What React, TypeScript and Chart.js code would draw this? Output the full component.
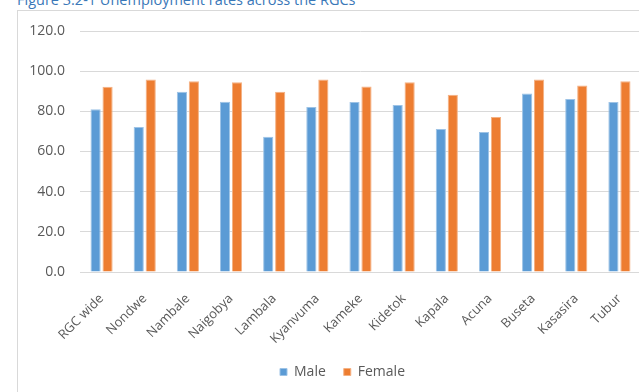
import React, { useEffect, useRef } from "react";
import { Chart, registerables } from "chart.js";

Chart.register(...registerables);

const categories = [
  "RGC wide", "Nondwe", "Nambale", "Naigobya", "Lambala", "Kyanvuma",
  "Kameke", "Kidetok", "Kapala", "Acuna", "Buseta", "Kasasira", "Tubur",
];
const maleValues = [81.0, 72.2, 89.8, 84.8, 67.3, 82.2, 84.7, 83.1, 71.2, 69.7, 88.9, 86.1, 84.7];
const femaleValues = [92.3, 95.8, 95.0, 94.5, 89.8, 95.8, 92.4, 94.5, 88.2, 77.2, 95.8, 92.9, 95.0];
const seriesNames = ["Male", "Female"];
const titleText = "Figure 3.2-1 Unemployment rates across the RGCs";

const FONT = "'Open Sans', sans-serif";
const CW = 685;
const CH = 389;

export default function App() {
  const ref = useRef<HTMLCanvasElement | null>(null);

  useEffect(() => {
    document.body.style.margin = "0";
    document.body.style.overflow = "hidden";
    if (!ref.current) return;
    const chart = new Chart(ref.current, {
      type: "bar",
      data: {
        labels: categories,
        datasets: [
          {
            label: seriesNames[0],
            data: maleValues,
            backgroundColor: "#5B9BD5",
            borderColor: "#9DC3E6",
            borderWidth: 1,
            categoryPercentage: 0.555,
            barPercentage: 0.85,
          },
          {
            label: seriesNames[1],
            data: femaleValues,
            backgroundColor: "#ED7D31",
            borderColor: "#F4B183",
            borderWidth: 1,
            categoryPercentage: 0.555,
            barPercentage: 0.85,
          },
        ],
      },
      options: {
        animation: false,
        responsive: false,
        maintainAspectRatio: false,
        layout: { padding: { top: 31, right: 0, bottom: 0, left: 0 } },
        plugins: {
          title: { display: false },
          tooltip: { enabled: false },
          legend: {
            position: "bottom",
            labels: {
              boxWidth: 7,
              boxHeight: 7,
              padding: 18,
              color: "#595959",
              font: { family: FONT, size: 14 },
            },
          },
        },
        scales: {
          x: {
            grid: { display: false },
            border: { display: true, color: "#D9D9D9", width: 1 },
            ticks: {
              color: "#595959",
              font: { family: FONT, size: 13 },
              maxRotation: 45,
              minRotation: 45,
              autoSkip: false,
              padding: 11,
            },
            afterFit: (scale: any) => {
              scale.height = 75;
            },
          },
          y: {
            min: 0,
            max: 120,
            grid: { color: "#D9D9D9", lineWidth: 1, drawTicks: false },
            border: { display: false },
            ticks: {
              stepSize: 20,
              color: "#595959",
              font: { family: FONT, size: 14 },
              padding: 15,
              callback: (v: any) => Number(v).toFixed(1),
            },
            afterFit: (scale: any) => {
              scale.width = 80;
            },
          },
          y2: {
            type: "linear",
            position: "right",
            display: true,
            grid: { display: false },
            border: { display: false },
            ticks: { display: false },
            afterFit: (scale: any) => {
              scale.width = 44;
            },
          },
        },
      },
    });
    return () => chart.destroy();
  }, []);

  return (
    <div
      style={{
        position: "fixed",
        left: 0,
        top: 0,
        width: 639,
        height: 392,
        overflow: "hidden",
        background: "#ffffff",
      }}
    >
      <div
        style={{
          position: "absolute",
          left: 17,
          top: 10,
          width: 700,
          height: 500,
          border: "1px solid #D9D9D9",
          boxSizing: "border-box",
        }}
      />
      <div
        style={{
          position: "absolute",
          left: 17,
          top: -8,
          fontFamily: FONT,
          fontSize: 14.5,
          lineHeight: "15px",
          color: "#3A78B8",
          whiteSpace: "nowrap",
        }}
      >
        {titleText}
      </div>
      <div style={{ position: "absolute", left: 0, top: 0, width: CW, height: CH }}>
        <canvas ref={ref} width={CW} height={CH} style={{ width: CW, height: CH }} />
      </div>
    </div>
  );
}
